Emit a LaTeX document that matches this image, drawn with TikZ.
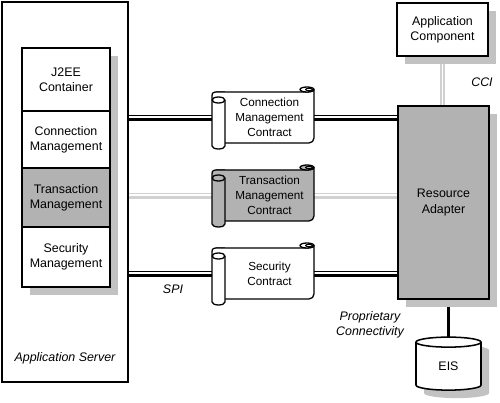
\documentclass[tikz,border=0pt]{standalone}
\usepackage{fontspec}
\setmainfont{Liberation Sans}
\usetikzlibrary{calc,shapes.geometric,shadows,backgrounds}

\definecolor{boxgray}{gray}{0.70}
\definecolor{shadowgray}{gray}{0.76}
\definecolor{pipegray}{gray}{0.82}

\newcommand{\pxu}{0.03cm}
\newcommand{\labelfont}{\fontsize{10.6}{13}\selectfont}
\newcommand{\scrollfont}{\fontsize{10}{12.8}\selectfont}

\tikzset{
  box/.style={draw, line width=1.3pt, fill=white, inner sep=0pt, outer sep=0pt,
    align=center, font=\labelfont},
  wd/.style={minimum width=#1*\pxu},
  ht/.style={minimum height=#1*\pxu},
  shadowed/.style={drop shadow={shadow xshift=0.24cm, shadow yshift=-0.24cm,
    fill=shadowgray, opacity=1}},
  contract/.style={inner sep=0pt, outer sep=0pt, align=center,
    wd=89, ht=51, font=\scrollfont},
  scrollline/.style={line width=1.1pt, line join=round},
  thinrail/.style={draw=#1, line width=0.9pt},
  thickrail/.style={draw=#1, line width=2.1pt},
  vpipe/.style={draw=#1, line width=1.4pt, double=white, double distance=1.6pt},
  link/.style={draw=black, line width=2.6pt},
  lbl/.style={align=center, font=\itshape\labelfont}
}

% contract scroll: name, centre of text area, fill, text
\newcommand{\contract}[4]{%
  \begin{scope}[shift={(#2)}, scrollline]
    \filldraw[fill=#3] (-53.5,-25.5) -- (37.5,-25.5)
      arc[start angle=90, end angle=0, x radius=7, y radius=2.5]
      -- (44.5,20.5) arc[start angle=0, end angle=90, radius=5] -- (-50,25.5);
    \filldraw[fill=#3] (-44.5,-17.5) -- (-44.5,28.5)
      arc[start angle=0, end angle=180, x radius=6.5, y radius=3]
      -- (-57.5,-21.5) .. controls (-57.5,-25) and (-56,-25.5) .. (-52,-25.5)
      -- (-44.5,-25.5);
    \filldraw[fill=#3] (-51,-17.5) ellipse [x radius=6.5, y radius=3];
    \filldraw[fill=#3] (37.5,-28) ellipse [x radius=7, y radius=2.5];
    \draw[line width=0.8pt] (39.5,-28) ellipse [x radius=3.5, y radius=1.2];
  \end{scope}
  \node[contract] (#1) at (#2) {#4};
  \coordinate (#1-in) at ($(#1.west)+(-13,0)$);
}

% horizontal pipe: colour, from, to (thin rail above, thick rail below)
\newcommand{\pipe}[3]{%
  \draw[thinrail=#1] ($(#2)+(0,-1.8)$) -- ($(#3)+(0,-1.8)$);
  \draw[thickrail=#1] ($(#2)+(0,2)$) -- ($(#3)+(0,2)$);
}

\begin{document}
\begin{tikzpicture}[x=\pxu, y=-\pxu]
    \useasboundingbox (0,0) rectangle (500,403);

    % Application server and its services
    \node[box, fill=none, wd=126, ht=380] (as) at (65,192) {};
    \node[lbl] (aslbl) at (65,358) {Application Server};
    \node[box, wd=88, ht=63] (j2ee) at (66,79.5) {J2EE\\Container};
    \node[box, wd=88, ht=57] (cm) at (66,139.5) {Connection\\Management};
    \node[box, fill=boxgray, wd=88, ht=59] (tm) at (66,197.5) {Transaction\\Management};
    \node[box, wd=88, ht=60] (sm) at (66,257) {Security\\Management};

    % System contracts
    \contract{cmc}{269.5,117.5}{white}{Connection\\Management\\Contract}
    \contract{tmc}{269.5,195.5}{boxgray}{Transaction\\Management\\Contract}
    \contract{smc}{269.5,273.5}{white}{Security\\Contract}

    % Adapter side
    \node[box, shadowed, wd=91, ht=53] (ac) at (442.5,29.5) {Application\\Component};
    \node[box, shadowed, fill=boxgray, wd=91, ht=193] (ra) at (443.5,202.5) {Resource\\Adapter};
    \node[box, shadowed, cylinder, shape border rotate=90, aspect=0.5,
      wd=65, ht=53] (eis) at (448.5,366.5) {EIS};

    \node[lbl] (cci) at (482,82) {CCI};
    \node[lbl] (spi) at (173,289) {SPI};
    \node[lbl] (pc) at (370,324.5) {Proprietary\\Connectivity};

    % Connections
    \begin{scope}[on background layer]
        \fill[shadowgray] ($(j2ee.north west)+(8,8)$) rectangle ($(sm.south east)+(8,8)$);
        \pipe{black}{as.east |- cmc-in}{cmc-in}
        \pipe{black}{cmc.east}{ra.west |- cmc.east}
        \pipe{pipegray}{as.east |- tmc-in}{tmc-in}
        \pipe{pipegray}{tmc.east}{ra.west |- tmc.east}
        \pipe{black}{as.east |- smc-in}{smc-in}
        \pipe{black}{smc.east}{ra.west |- smc.east}
        \draw[vpipe=pipegray] (ac.south) -- (ac.south |- ra.north);
        \draw[link] (eis.north |- ra.south) -- (eis.north);
    \end{scope}
\end{tikzpicture}
\end{document}
